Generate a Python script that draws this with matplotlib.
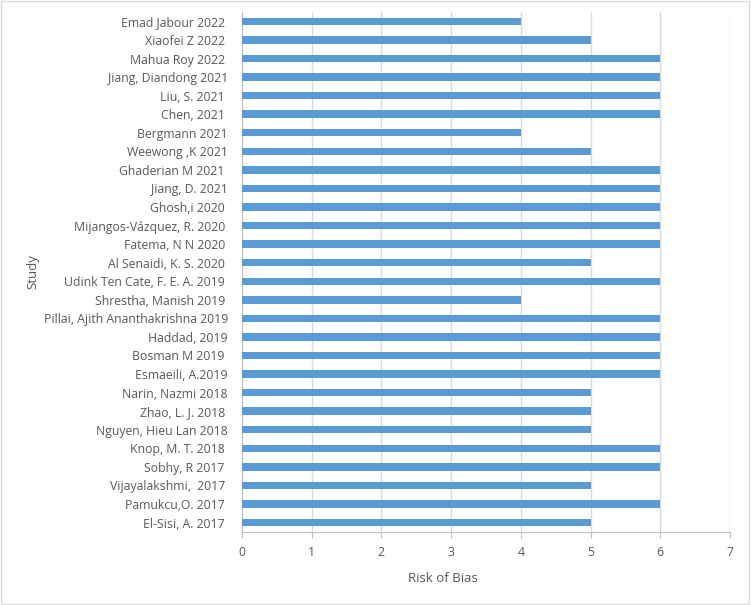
import matplotlib
matplotlib.use("Agg")
import matplotlib.pyplot as plt
from matplotlib.patches import Rectangle

# studies listed top to bottom, as in the reference
studies = [
    "Emad Jabour 2022 ", "Xiaofei Z 2022 ", "Mahua Roy 2022 ", "Jiang, Diandong 2021",
    "Liu, S. 2021 ", "Chen, 2021 ", "Bergmann 2021", "Weewong ,K 2021",
    "Ghaderian M 2021 ", "Jiang, D. 2021", "Ghosh,i 2020 ", "Mijangos-Vázquez, R. 2020 ",
    "Fatema, N N 2020 ", "Al Senaidi, K. S. 2020 ", "Udink Ten Cate, F. E. A. 2019 ",
    "Shrestha, Manish 2019 ", "Pillai, Ajith Ananthakrishna 2019", "Haddad, 2019",
    "Bosman M 2019 ", "Esmaeili, A.2019", "Narin, Nazmi 2018", "Zhao, L. J. 2018 ",
    "Nguyen, Hieu Lan 2018", "Knop, M. T. 2018 ", "Sobhy, R 2017 ", "Vijayalakshmi,  2017 ",
    "Pamukcu,O. 2017 ", "El-Sisi, A. 2017 ",
]
risk_of_bias = [
    4, 5, 6, 6, 6, 6, 4, 5, 6, 6, 6, 6, 6, 5,
    6, 4, 6, 6, 6, 6, 5, 5, 5, 6, 6, 5, 6, 5,
]
x_ticks = [0, 1, 2, 3, 4, 5, 6, 7]

text_color = "#595959"
grid_color = "#D9D9D9"
bar_color = "#5B9BD5"

plt.rcParams["font.family"] = ["Open Sans", "DejaVu Sans"]

fig = plt.figure(figsize=(7.51, 6.05), dpi=100)
ax = fig.add_axes([0.322, 0.121, 0.650, 0.859])

pos = list(range(len(studies)))[::-1]
ax.barh(pos, risk_of_bias, height=0.4, color=bar_color, zorder=3)

ax.set_xlim(0, 7)
ax.set_ylim(-0.5, len(studies) - 0.5)
ax.set_xticks(x_ticks)
ax.set_yticks(pos)
ax.set_yticklabels(studies)
ax.grid(axis="x", color=grid_color, linewidth=1, zorder=0)

for side in ["top", "right"]:
    ax.spines[side].set_visible(False)
for side in ["left", "bottom"]:
    ax.spines[side].set_color("#BFBFBF")

ax.tick_params(axis="x", colors="#BFBFBF", labelcolor=text_color, labelsize=8.8,
               length=4, direction="out", pad=6)
ax.tick_params(axis="y", length=0, labelcolor=text_color, labelsize=8.8, pad=10)

ax.set_xlabel("Risk of Bias", color=text_color, fontsize=9.5)
ax.set_ylabel("Study", color=text_color, fontsize=9.5)
ax.xaxis.set_label_coords(0.413, -0.078)
ax.yaxis.set_label_coords(-0.415, 0.5)

# light frame around the whole chart
fig.patches.append(Rectangle((0.001, 0.001), 0.997, 0.997, transform=fig.transFigure,
                             fill=False, edgecolor=grid_color, linewidth=1))

fig.savefig("out.png", dpi=100)
